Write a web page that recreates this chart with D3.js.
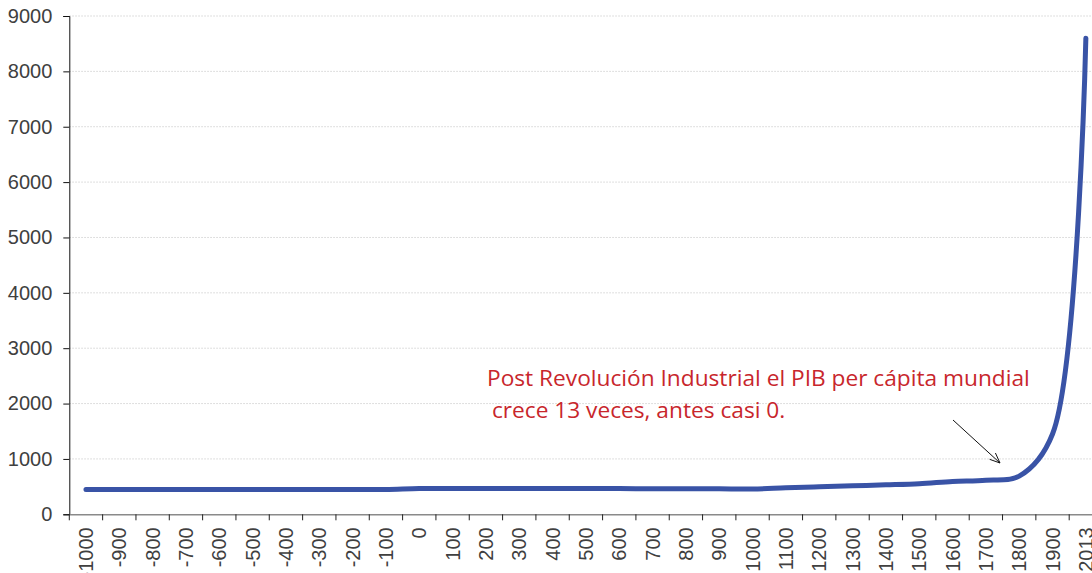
<!DOCTYPE html>
<html>
<head>
<meta charset="utf-8">
<script src="https://cdn.jsdelivr.net/npm/d3@7"></script>
<style>
  body { margin: 0; background: #fff; }
  svg { display: block; }
</style>
</head>
<body>
<div id="chart"></div>
<script>
// categories (years) and world GDP per capita values
var years = ["-1000", "-900", "-800", "-700", "-600", "-500", "-400", "-300", "-200", "-100",
  "0", "100", "200", "300", "400", "500", "600", "700", "800", "900",
  "1000", "1100", "1200", "1300", "1400", "1500", "1600", "1700", "1800", "1900", "2013"]
var gdp = [450, 450, 450, 450, 450, 450, 450, 450, 450, 450,
  467, 467, 467, 466, 466, 465, 464, 463, 462, 460,
  456, 478, 497, 515, 532, 552, 593, 617, 690, 1450, 8600]
var yTicks = [0, 1000, 2000, 3000, 4000, 5000, 6000, 7000, 8000, 9000]
var noteLines = ["Post Revolución Industrial el PIB per cápita mundial", " crece 13 veces, antes casi 0."]

var width = 1092, height = 573
var margin = { top: 16, left: 69.3, bottom: 573 - 514.3 }
var plotRight = 69.3 + 31 * 33.33

var svg = d3.select("#chart")
  .append("svg")
  .attr("width", width)
  .attr("height", height)

var x = d3.scaleBand()
  .domain(years)
  .range([margin.left, plotRight])
  .padding(0)

var y = d3.scaleLinear()
  .domain([0, 9000])
  .range([height - margin.bottom, margin.top])

// dotted gridlines
svg.append("g")
  .selectAll("line")
  .data(yTicks.filter(function (d) { return d > 0 }))
  .enter()
  .append("line")
  .attr("x1", margin.left)
  .attr("x2", width)
  .attr("y1", function (d) { return y(d) })
  .attr("y2", function (d) { return y(d) })
  .style("stroke", "#d4d4d4")
  .style("stroke-width", 1)
  .style("stroke-dasharray", "1.5,1.5")

// y axis
var yAxis = svg.append("g")
  .attr("transform", "translate(" + margin.left + ",0)")
  .call(d3.axisLeft(y).tickValues(yTicks).tickSize(6).tickPadding(11).tickFormat(d3.format("d")))
yAxis.select(".domain").attr("stroke", "#111")
yAxis.selectAll(".tick line").attr("stroke", "#111")
yAxis.selectAll("text")
  .style("font-family", "'Liberation Sans', Arial, sans-serif")
  .style("font-size", "20px")
  .attr("fill", "#404040")

// x axis: labels centred in each category, ticks on the boundaries
var xAxis = svg.append("g")
  .attr("transform", "translate(0," + y(0) + ")")
  .call(d3.axisBottom(x).tickSize(0).tickPadding(0))
xAxis.select(".domain").attr("stroke", "#8a8a8a").attr("stroke-width", 1.5)
xAxis.selectAll("text")
  .style("font-family", "'Liberation Sans', Arial, sans-serif")
  .style("font-size", "20px")
  .attr("fill", "#404040")
  .attr("text-anchor", "end")
  .attr("transform", "rotate(-90)")
  .attr("x", -13)
  .attr("y", 0)
  .attr("dy", "0.35em")

var bounds = years.map(function (d) { return x(d) }).concat([plotRight])
xAxis.append("g")
  .selectAll("line")
  .data(bounds)
  .enter()
  .append("line")
  .attr("x1", function (d) { return d })
  .attr("x2", function (d) { return d })
  .attr("y1", 0)
  .attr("y2", 6)
  .attr("stroke", "#222")

// the smoothed line
var line = d3.line()
  .x(function (d, i) { return x(years[i]) + x.bandwidth() / 2 })
  .y(function (d) { return y(d) })
  .curve(d3.curveCatmullRom)

svg.append("path")
  .datum(gdp)
  .attr("d", line)
  .attr("fill", "none")
  .attr("stroke", "#3953a6")
  .attr("stroke-width", 5)
  .attr("stroke-linecap", "round")
  .attr("stroke-linejoin", "round")

// annotation
svg.append("text")
  .attr("x", 487)
  .attr("y", 386)
  .style("font-family", "'Open Sans', sans-serif")
  .style("font-size", "22.7px")
  .attr("fill", "#c8262c")
  .text(noteLines[0])

svg.append("text")
  .attr("x", 486)
  .attr("y", 418)
  .attr("xml:space", "preserve")
  .style("white-space", "pre")
  .style("font-family", "'Open Sans', sans-serif")
  .style("font-size", "22.7px")
  .attr("fill", "#c8262c")
  .text(noteLines[1])

// arrow pointing to the start of the take-off
var ax1 = 953, ay1 = 420, ax2 = 1000, ay2 = 463
svg.append("line")
  .attr("x1", ax1).attr("y1", ay1)
  .attr("x2", ax2).attr("y2", ay2)
  .attr("stroke", "#111")
  .attr("stroke-width", 1)

var ang = Math.atan2(ay2 - ay1, ax2 - ax1)
var headLen = 11, spread = 0.4
svg.append("path")
  .attr("d", "M" + (ax2 - headLen * Math.cos(ang - spread)) + "," + (ay2 - headLen * Math.sin(ang - spread)) +
    "L" + ax2 + "," + ay2 +
    "L" + (ax2 - headLen * Math.cos(ang + spread)) + "," + (ay2 - headLen * Math.sin(ang + spread)))
  .attr("fill", "none")
  .attr("stroke", "#111")
  .attr("stroke-width", 1)
</script>
</body>
</html>
